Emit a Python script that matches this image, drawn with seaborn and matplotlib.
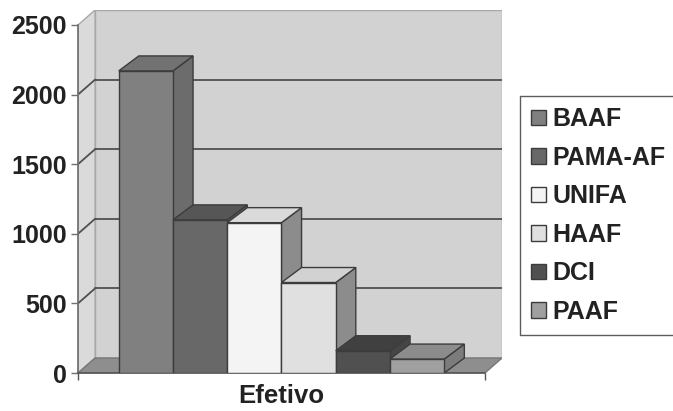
import numpy as np
import pandas as pd
import matplotlib
matplotlib.use("Agg")
import matplotlib.pyplot as plt
import seaborn as sns
from matplotlib.patches import Polygon, Rectangle

# ---- data ----
category = ["Efetivo"]
series = ["BAAF", "PAMA-AF", "UNIFA", "HAAF", "DCI", "PAAF"]
values = [2170, 1100, 1080, 650, 160, 100]
yticks = [0, 500, 1000, 1500, 2000, 2500]

# ---- styles ----
front_colors = ["#808080", "#686868", "#f4f4f4", "#e0e0e0", "#505050", "#a0a0a0"]
top_colors = ["#727272", "#565656", "#dadada", "#d2d2d2", "#404040", "#8c8c8c"]
side_colors = ["#6c6c6c", "#5a5a5a", "#8c8c8c", "#8c8c8c", "#454545", "#7c7c7c"]

df = pd.DataFrame({"cat": category * len(series), "series": series, "value": values})

sns.set_theme(style="white")
plt.rcParams["font.family"] = ["Liberation Sans", "DejaVu Sans"]
plt.rcParams["font.weight"] = "bold"

W, H = 673, 411
fig = plt.figure(figsize=(W / 100, H / 100), dpi=100)
x0, x1, yb, yt = 78, 502, 373, 10
ax = fig.add_axes([x0 / W, (H - yb) / H, (x1 - x0) / W, (yb - yt) / H])

palette = dict(zip(series, front_colors))
sns.barplot(data=df, x="cat", y="value", hue="series", hue_order=series,
            palette=palette, width=0.8, dodge=True, saturation=1,
            edgecolor="#3c3c3c", linewidth=1.0, ax=ax, legend=True)
bars = [p for p in ax.patches if isinstance(p, Rectangle) and p.get_height() > 0]
bars.sort(key=lambda p: p.get_x())

# geometry in data units
px_x = 405.0           # px per x unit (front plane)
px_y = 348.0 / 2500.0  # px per y unit
wdx, wdy = 17 / px_x, 15 / px_y   # wall depth offset
bdx, bdy = 20 / px_x, 15 / px_y   # bar depth offset
xl, xr = -0.5, 0.5
ax.set_xlim(xl, xr + wdx)
ax.set_ylim(0, 2500 + wdy)

# walls and floor
ax.add_patch(Polygon([(xl + wdx, wdy), (xr + wdx, wdy), (xr + wdx, 2500 + wdy), (xl + wdx, 2500 + wdy)],
                     closed=True, facecolor="#d2d2d2", edgecolor="#a8a8a8", lw=1.0, zorder=0.5))
ax.add_patch(Polygon([(xl, 0), (xl + wdx, wdy), (xl + wdx, 2500 + wdy), (xl, 2500)],
                     closed=True, facecolor="#dadada", edgecolor="#a8a8a8", lw=1.0, zorder=0.5))
ax.add_patch(Polygon([(xl, 0), (xr, 0), (xr + wdx, wdy), (xl + wdx, wdy)],
                     closed=True, facecolor="#8e8e8e", edgecolor="#777777", lw=1.0, zorder=0.6))
for v in yticks[1:-1]:
    ax.plot([xl + wdx, xr + wdx], [v + wdy, v + wdy], color="#505050", lw=1.3, zorder=0.7)
    ax.plot([xl, xl + wdx], [v, v + wdy], color="#505050", lw=1.3, zorder=0.7)

# 3D faces on bars
for i, p in enumerate(bars):
    bx, bw, bh = p.get_x(), p.get_width(), p.get_height()
    p.set_zorder(3 + i)
    p.set_facecolor(front_colors[i])
    ax.add_patch(Polygon([(bx + bw, 0), (bx + bw + bdx, bdy), (bx + bw + bdx, bh + bdy), (bx + bw, bh)],
                         closed=True, facecolor=side_colors[i], edgecolor="#3c3c3c", lw=1.0, zorder=2.6 + i))
    ax.add_patch(Polygon([(bx, bh), (bx + bw, bh), (bx + bw + bdx, bh + bdy), (bx + bdx, bh + bdy)],
                         closed=True, facecolor=top_colors[i], edgecolor="#3c3c3c", lw=1.0, zorder=2.7 + i))

# axes styling
for s in ["top", "right"]:
    ax.spines[s].set_visible(False)
ax.spines["left"].set_bounds(0, 2500)
ax.spines["left"].set_color("#707070")
ax.spines["bottom"].set_bounds(xl, xr)
ax.spines["bottom"].set_color("#555555")
ax.spines["left"].set_zorder(1)
ax.set_yticks(yticks)
ax.set_yticklabels([str(v) for v in yticks], fontsize=18, fontweight="bold", color="#222222")
ax.tick_params(axis="y", direction="out", length=5, width=1, color="#707070", left=True, pad=3)
ax.set_xticks([0])
ax.set_xticklabels(category, fontsize=18.5, fontweight="bold", color="#222222")
ax.tick_params(axis="x", length=0, pad=8)
ax.set_xticks([xl, xr], minor=True)
ax.tick_params(axis="x", which="minor", direction="out", length=5, width=1, color="#555555", bottom=True)
ax.set_xlabel("")
ax.set_ylabel("")
ax.grid(False)
ax.patch.set_alpha(0)

# legend
old = ax.get_legend()
handles = old.legend_handles
labels = [t.get_text() for t in old.get_texts()]
old.remove()
for h, c in zip(handles, front_colors):
    h.set_facecolor(c)
    h.set_edgecolor("#3c3c3c")
    h.set_linewidth(1.0)
leg = fig.legend(handles, labels, loc="upper left",
                 bbox_to_anchor=(520 / W, (H - 96) / H), bbox_transform=fig.transFigure,
                 frameon=True, fancybox=False, shadow=False,
                 prop={"size": 18, "weight": "bold"},
                 handlelength=0.6, handleheight=0.6, handletextpad=0.25,
                 labelspacing=0.58, borderpad=0.45, borderaxespad=0)
leg.get_frame().set_edgecolor("#333333")
leg.get_frame().set_linewidth(1.0)
for t in leg.get_texts():
    t.set_color("#222222")

fig.savefig("out.png", dpi=100, facecolor="white")
